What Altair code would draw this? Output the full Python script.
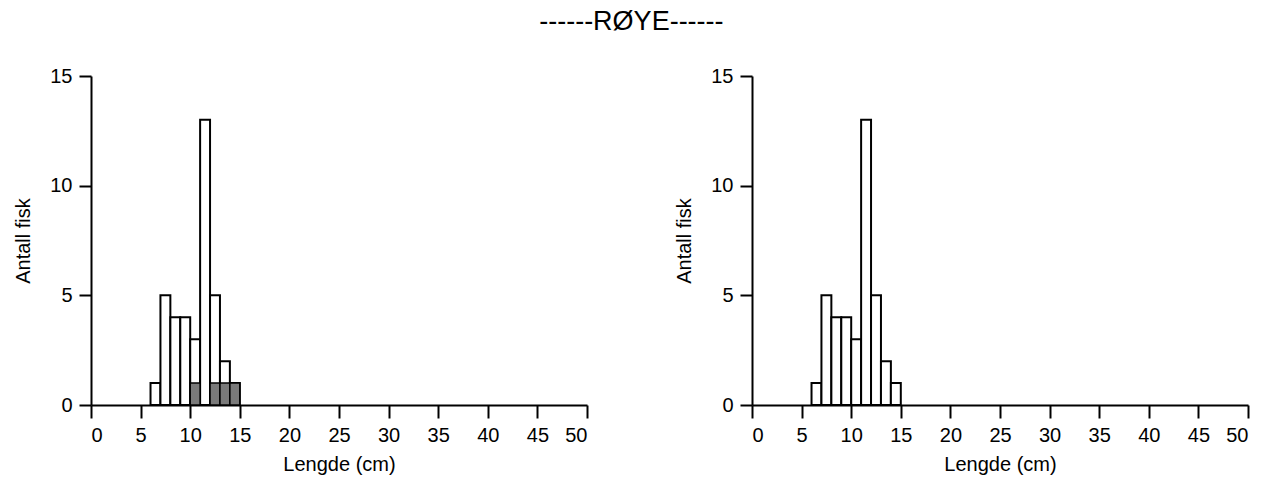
import altair as alt
import pandas as pd

bin_start = [6, 7, 8, 9, 10, 11, 12, 13, 14]
counts = [1, 5, 4, 4, 3, 13, 5, 2, 1]
grey_counts = [0, 0, 0, 0, 1, 0, 1, 1, 1]

df = pd.DataFrame({
    "start": bin_start,
    "end": [b + 1 for b in bin_start],
    "n": counts,
    "g": grey_counts,
    "zero": [0] * len(bin_start),
})
dfg = df[df["g"] > 0]

W, H = 496, 329
FONT = "Liberation Sans"

xscale = alt.Scale(domain=[0, 50], nice=False)
yscale = alt.Scale(domain=[0, 15], nice=False)

xaxis = alt.Axis(values=list(range(0, 55, 5)), title="Lengde (cm)", grid=False,
                 tickSize=13, labelPadding=7, titlePadding=9)
yaxis = alt.Axis(values=[0, 5, 10, 15], title="Antall fisk", grid=False,
                 tickSize=12, labelPadding=7, titlePadding=16)


def panel(with_grey):
    base = alt.Chart(df).mark_bar(fill="white", stroke="black", strokeWidth=2).encode(
        x=alt.X("start:Q", scale=xscale, axis=xaxis),
        x2="end:Q",
        y=alt.Y("n:Q", scale=yscale, axis=yaxis),
        y2="zero:Q",
    )
    layers = [base]
    if with_grey:
        grey = alt.Chart(dfg).mark_bar(fill="#7a7a7a", stroke="black", strokeWidth=1.5).encode(
            x=alt.X("start:Q", scale=xscale, axis=xaxis),
            x2="end:Q",
            y=alt.Y("g:Q", scale=yscale, axis=yaxis),
            y2="zero:Q",
        )
        layers.append(grey)
    return alt.layer(*layers).properties(width=W, height=H)


chart = alt.hconcat(panel(True), panel(False), spacing=86).properties(
    title=alt.TitleParams("------RØYE------", fontSize=27, font=FONT, fontWeight="normal",
                          anchor="middle", offset=30, color="black"),
    padding={"left": 13, "top": 8, "right": 2, "bottom": 2},
    background="white",
).configure_view(stroke="transparent", strokeWidth=0).configure_axis(
    tickWidth=2, domainWidth=2, domainColor="black", tickColor="black",
    labelFontSize=20, titleFontSize=20, titleFontWeight="normal",
    labelColor="black", titleColor="black", labelFont=FONT, titleFont=FONT,
)

chart.save("out.html", embed_options={"renderer": "svg", "actions": False})
